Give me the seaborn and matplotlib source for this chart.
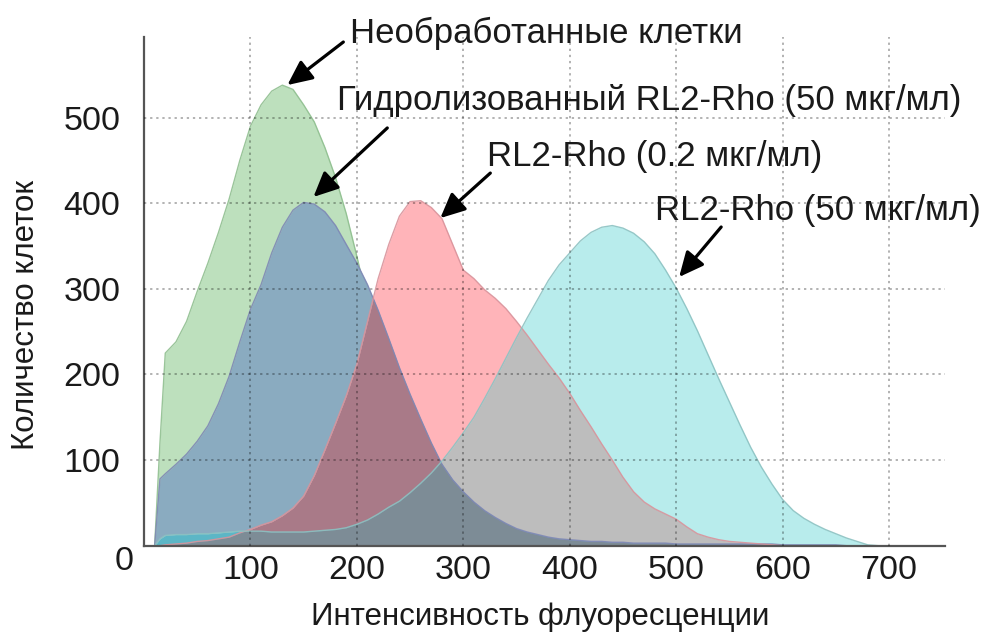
import numpy as np
import matplotlib
matplotlib.use("Agg")
import matplotlib.pyplot as plt
import seaborn as sns

# ---- data ----
intensity = [10, 15, 20, 30, 40, 50, 60, 70, 80, 90, 100, 110, 120, 130, 140, 150,
             160, 170, 180, 190, 200, 210, 220, 230, 240, 250, 260, 270, 280, 290,
             300, 310, 320, 330, 340, 350, 360, 370, 380, 390, 400, 410, 420, 430,
             440, 450, 460, 470, 480, 490, 500, 510, 520, 530, 540, 550, 560, 570,
             580, 590, 600, 610, 620, 630, 640, 650, 660, 670, 680, 690, 700]

untreated = [0, 120, 225, 238, 262, 297, 330, 366, 405, 450, 490, 515, 531, 538, 533, 515,
             495, 465, 430, 388, 338, 285, 225, 165, 110, 68, 38, 18, 7, 2,
             0, 0, 0, 0, 0, 0, 0, 0, 0, 0, 0, 0, 0, 0,
             0, 0, 0, 0, 0, 0, 0, 0, 0, 0, 0, 0, 0, 0,
             0, 0, 0, 0, 0, 0, 0, 0, 0, 0, 0, 0, 0]

hydrolyzed = [0, 78, 84, 95, 107, 122, 140, 166, 198, 238, 276, 305, 342, 372, 392, 401,
              399, 390, 374, 352, 330, 305, 275, 242, 208, 177, 148, 120, 95, 77,
              63, 51, 41, 33, 26, 20, 16, 13, 10, 8, 7, 6, 5, 5,
              4, 4, 3, 3, 3, 3, 2, 2, 2, 2, 2, 2, 2, 2,
              2, 2, 1, 1, 1, 1, 1, 1, 0, 0, 0, 0, 0]

rho_low = [0, 0, 1, 2, 3, 5, 6, 8, 10, 15, 19, 24, 28, 35, 44, 58,
           82, 112, 143, 175, 212, 262, 312, 352, 385, 402, 403, 395, 382, 352,
           322, 312, 299, 289, 277, 262, 246, 229, 212, 196, 178, 158, 139, 119,
           100, 80, 63, 51, 43, 37, 31, 22, 14, 10, 7, 5, 4, 3,
           2, 1, 0, 0, 0, 0, 0, 0, 0, 0, 0, 0, 0]

rho_high = [0, 8, 12, 13, 13, 14, 14, 15, 16, 17, 17, 17, 16, 16, 16, 16,
            17, 18, 19, 21, 25, 30, 37, 45, 52, 62, 73, 85, 99, 115,
            132, 150, 172, 195, 219, 243, 266, 288, 310, 328, 342, 356, 366, 372,
            374, 371, 365, 355, 341, 322, 301, 277, 251, 223, 195, 168, 141, 115,
            92, 72, 54, 41, 32, 25, 19, 14, 9, 5, 1, 0, 0]

x_ticks = [100, 200, 300, 400, 500, 600, 700]
y_ticks = [100, 200, 300, 400, 500]

labels = ["Необработанные клетки",
          "Гидролизованный RL2-Rho (50 мкг/мл)",
          "RL2-Rho (0.2 мкг/мл)",
          "RL2-Rho (50 мкг/мл)"]

# ---- style ----
sns.set_theme(style="white")
plt.rcParams['font.family'] = ['Liberation Sans', 'DejaVu Sans']

fig, ax = plt.subplots(figsize=(9.81, 6.33), dpi=100)
fig.subplots_adjust(left=144 / 981, right=945 / 981,
                    bottom=(633 - 545.7) / 633, top=(633 - 36.7) / 633)

x = np.array(intensity, dtype=float)
G = np.array(untreated, dtype=float)
B = np.array(hydrolyzed, dtype=float)
P = np.array(rho_low, dtype=float)
C = np.array(rho_high, dtype=float)

# same polylines resampled finely so that overlap regions follow the crossings exactly
xf = np.linspace(x.min(), x.max(), 3000)
Gf, Bf, Pf, Cf = (np.interp(xf, x, s) for s in (G, B, P, C))

col_green = '#bde0bd'
col_steel = '#8aabc0'
col_pink = '#ffb4b9'
col_cyan = '#b8ecec'
col_gray = '#bdbdbd'
col_mauve = '#a97a88'
col_teal = '#5cb6c6'
col_slate = '#7d8c96'

# green (with its outline) sits below the blue series
ax.fill_between(xf, 0, Gf, color=col_green, lw=0, zorder=1.0)
sns.lineplot(x=x, y=G, color='#8fbf8f', lw=1.0, alpha=0.9, ax=ax,
             estimator=None, sort=False, zorder=1.05)
ax.fill_between(xf, 0, Bf, color=col_steel, lw=0, zorder=1.1)
ax.fill_between(xf, 0, Pf, color=col_pink, lw=0, zorder=1.1)
ax.fill_between(xf, 0, Cf, color=col_cyan, lw=0, zorder=1.1)
# overlaps
ax.fill_between(xf, 0, np.minimum(Pf, Cf), color=col_gray, lw=0, zorder=1.2)
ax.fill_between(xf, 0, np.minimum(Bf, Pf), color=col_mauve, lw=0, zorder=1.3)
ax.fill_between(xf, 0, np.minimum(Bf, Cf), color=col_teal, lw=0, zorder=1.4)
ax.fill_between(xf, 0, np.minimum(np.minimum(Bf, Pf), Cf), color=col_slate, lw=0, zorder=1.5)

# outlines
for yv, ec in [(B, '#7e88b5'), (P, '#d9939b'), (C, '#8cc2c2')]:
    sns.lineplot(x=x, y=yv, color=ec, lw=1.0, alpha=0.9, ax=ax,
                 estimator=None, sort=False, zorder=2)

ax.set_xlim(0, 752.6)
ax.set_ylim(0, 594.6)
ax.set_xticks(x_ticks)
ax.set_yticks(y_ticks)
ax.set_xticklabels([str(v) for v in x_ticks])
ax.set_yticklabels([str(v) for v in y_ticks])

ax.set_axisbelow(False)
ax.grid(True, color='black', alpha=0.38, ls=(0, (1.5, 2.5)), lw=1.1)

for s in ['top', 'right']:
    ax.spines[s].set_visible(False)
for s in ['left', 'bottom']:
    ax.spines[s].set_color('#555555')
    ax.spines[s].set_linewidth(1.6)

ax.tick_params(axis='both', direction='in', length=5, width=1.3, color='#333333',
               labelsize=24.5, labelcolor='#1a1a1a')
ax.tick_params(axis='x', pad=7)
ax.tick_params(axis='y', pad=17)

ax.text(-18.3, -19, "0", fontsize=24.5, color='#1a1a1a', ha='center', va='center',
        clip_on=False)

ax.set_xlabel("Интенсивность флуоресценции", fontsize=22.5, color='#1a1a1a')
ax.set_ylabel("Количество клеток", fontsize=22.5, color='#1a1a1a')
ax.xaxis.set_label_coords(0.494, -0.110)
ax.yaxis.set_label_coords(-0.1286, 0.453)

# annotations
text_pos = [(193.9, 587.3), (181.7, 509.0), (322.5, 443.0), (480.3, 380.5)]
arrow_tail = [(187.3, 588.4), (228.6, 488.0), (325.4, 435.3), (542.3, 372.3)]
arrow_head = [(134.7, 538.1), (159.2, 407.4), (278.4, 382.7), (502.8, 313.9)]

for lab, tp, at, ah in zip(labels, text_pos, arrow_tail, arrow_head):
    ax.text(tp[0], tp[1], lab, fontsize=25, color='#1a1a1a', ha='left',
            va='baseline', clip_on=False, zorder=5)
    ax.annotate("", xy=ah, xytext=at,
                arrowprops=dict(arrowstyle='-|>,head_length=0.75,head_width=0.35',
                                color='black', lw=2.3, shrinkA=0, shrinkB=0,
                                mutation_scale=20),
                zorder=5, annotation_clip=False)

fig.savefig("out.png", dpi=100)
